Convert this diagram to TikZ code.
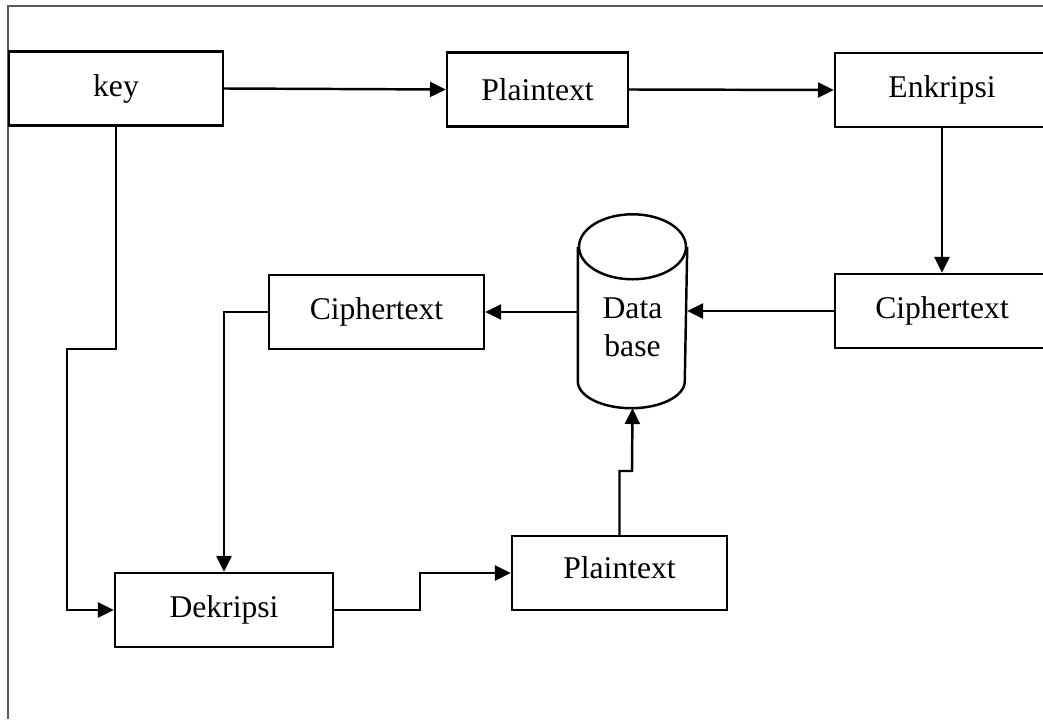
\documentclass[tikz,border=0pt]{standalone}
\usepackage{fontspec}
\setmainfont{Liberation Serif}
\usetikzlibrary{arrows.meta,positioning,shapes.geometric}

\begin{document}
\begin{tikzpicture}[x=0.02cm, y=-0.02cm, line width=1.4pt,
  font=\fontsize{18}{21.6}\selectfont,
  box/.style={draw, minimum height=1.48cm, inner sep=0pt},
  flow/.style={-{Triangle[length=9pt, width=8.5pt]}}]
  \useasboundingbox (0,0) rectangle (1043,719);
  \draw[line width=1.1pt, black!65] (8,719) -- (8,6) -- (1043,6);

  \node[box, minimum width=4.28cm] (key) at (116,88.5) {key};
  \node[box, minimum width=3.62cm] (plain1) at (537.5,89.5) {Plaintext};
  \node[box, minimum width=4.28cm] (enk) at (942,90) {Enkripsi};
  \node[box, minimum width=4.28cm] (ciph1) at (942,311) {Ciphertext};
  \node[box, minimum width=4.3cm] (ciph2) at (376.5,312) {Ciphertext};
  \node[box, minimum width=4.36cm] (dek) at (224,610) {Dekripsi};
  \node[box, minimum width=4.3cm] (plain2) at (619.5,573) {\raisebox{0.1cm}[\height][\depth]{Plaintext}};

  % database drum
  \node[align=center, minimum width=2.14cm, minimum height=3.18cm, inner sep=0pt] (db) at (632.5,327.5) {Data\\base};
  \draw (db.north west) -- ([yshift=0.54cm]db.south west)
    arc[start angle=180, end angle=360, x radius=1.07cm, y radius=0.54cm] -- (db.north east);
  \draw (db.north) ellipse[x radius=1.07cm, y radius=0.65cm];

  \coordinate (k1) at (67,349);
  \coordinate (d1) at (420,573);
  \coordinate (p1) at (632,471);

  \draw[flow] (key.east) -- (plain1.west);
  \draw[flow] (plain1.east) -- (enk.west);
  \draw[flow] (enk.south) -- (ciph1.north);
  \draw[flow] (ciph1.west) -- (ciph1.west -| db.east);
  \draw[flow] (ciph2.east -| db.west) -- (ciph2.east);
  \draw[flow] (ciph2.west) -| (dek.north);
  \draw[flow] (key.south) |- (k1) |- (dek.west);
  \draw[flow] (dek.east) -| (d1) -- (plain2.west);
  \draw[flow] (plain2.north) |- (p1) -- (db.south);
\end{tikzpicture}
\end{document}
